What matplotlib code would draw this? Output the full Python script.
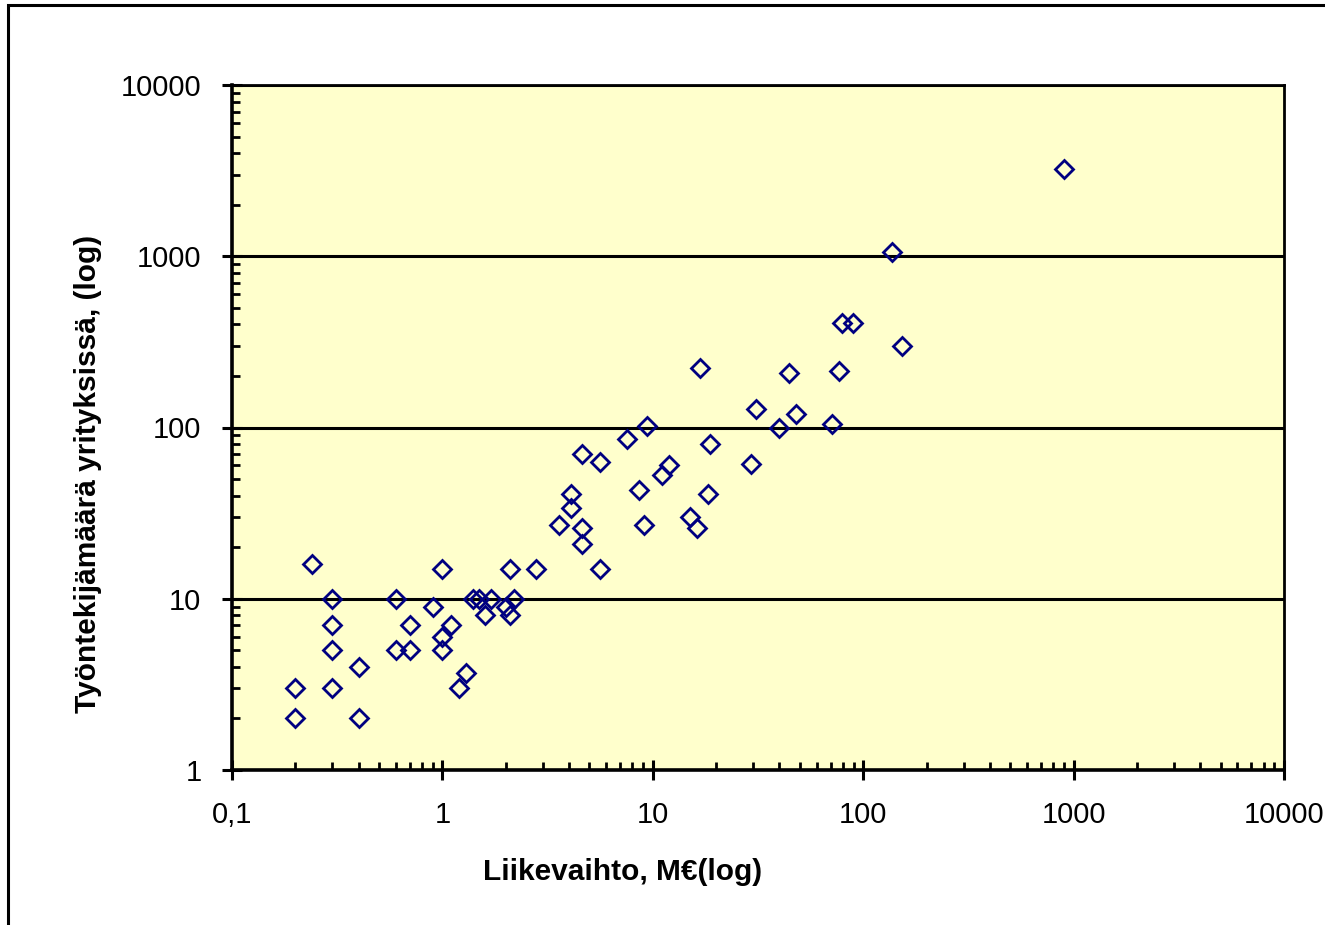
import matplotlib
matplotlib.use("Agg")
import matplotlib.pyplot as plt
import matplotlib.patches as patches
from matplotlib.ticker import FixedLocator, FixedFormatter, LogLocator, NullFormatter

plt.rcParams['font.family'] = ['Liberation Sans', 'DejaVu Sans']

# liikevaihto (M€) ja työntekijämäärä, luettu kuvasta
liikevaihto = [0.2, 0.2, 0.24, 0.3, 0.3, 0.3, 0.3, 0.4, 0.4, 0.6,
               0.6, 0.7, 0.7, 0.9, 1.0, 1.0, 1.0, 1.1, 1.2, 1.3,
               1.4, 1.5, 1.6, 1.7, 2.0, 2.1, 2.1, 2.2, 2.8, 3.6,
               4.1, 4.1, 4.6, 4.6, 4.6, 5.6, 5.6, 7.5, 8.6, 9.1,
               9.4, 11.1, 12.0, 15.0, 16.3, 16.8, 18.3, 18.7, 29.2, 30.9,
               39.7, 44.3, 48, 70.8, 77, 79, 89, 137, 153, 901]
tyontekijat = [3, 2, 16, 10, 7, 5, 3, 4, 2, 10,
               5, 7, 5, 9, 15, 6, 5, 7, 3, 3.7,
               10, 10, 8, 10, 9, 15, 8, 10, 15, 27,
               41, 34, 70, 26, 21, 63, 15, 86, 43, 27,
               102, 53, 60, 30, 26, 222, 41, 80, 61, 128,
               99, 207, 120, 105, 215, 410, 410, 1055, 300, 3220]

x_ticks = [0.1, 1, 10, 100, 1000, 10000]
x_labels = ['0,1', '1', '10', '100', '1000', '10000']
y_ticks = [1, 10, 100, 1000, 10000]
y_labels = ['1', '10', '100', '1000', '10000']

fig = plt.figure(figsize=(13.25, 9.25), dpi=100)
ax = fig.add_axes([232/1325, 155/925, (1284-232)/1325, (770-85)/925])
ax.set_facecolor('#FFFFCC')

ax.plot(liikevaihto, tyontekijat, linestyle='none', marker='D', markersize=9,
        markerfacecolor='none', markeredgecolor='#000080', markeredgewidth=2.0, zorder=3)

ax.set_xscale('log')
ax.set_yscale('log')
ax.set_xlim(0.1, 10000)
ax.set_ylim(1, 10000)

ax.xaxis.set_major_locator(FixedLocator(x_ticks))
ax.xaxis.set_major_formatter(FixedFormatter(x_labels))
ax.yaxis.set_major_locator(FixedLocator(y_ticks))
ax.yaxis.set_major_formatter(FixedFormatter(y_labels))
ax.xaxis.set_minor_locator(LogLocator(base=10, subs=range(2, 10)))
ax.yaxis.set_minor_locator(LogLocator(base=10, subs=range(2, 10)))
ax.xaxis.set_minor_formatter(NullFormatter())
ax.yaxis.set_minor_formatter(NullFormatter())

ax.yaxis.grid(True, which='major', color='black', linewidth=2.2, zorder=1)
ax.set_axisbelow(True)

ax.tick_params(which='major', direction='inout', length=14, width=2.2,
               labelsize=21, pad=15)
ax.tick_params(which='minor', direction='in', length=5.5, width=2.0)

for s in ax.spines.values():
    s.set_linewidth(2.0)
ax.spines['left'].set_linewidth(2.6)
ax.spines['bottom'].set_linewidth(2.6)

fig.text(623/1325, 1 - 872/925, 'Liikevaihto, M€(log)', fontsize=21.5,
         fontweight='bold', ha='center', va='center')
fig.text(88/1325, 1 - 474/925, 'Työntekijämäärä yrityksissä, (log)', fontsize=21.5,
         fontweight='bold', ha='center', va='center', rotation=90)

# kaavion reunaviiva
fig.patches.append(patches.Rectangle((8/1325, -0.1), 1.2, 1.1 - 5/925, transform=fig.transFigure,
                                     fill=False, edgecolor='black', linewidth=2.2))

fig.savefig('out.png', dpi=100)
